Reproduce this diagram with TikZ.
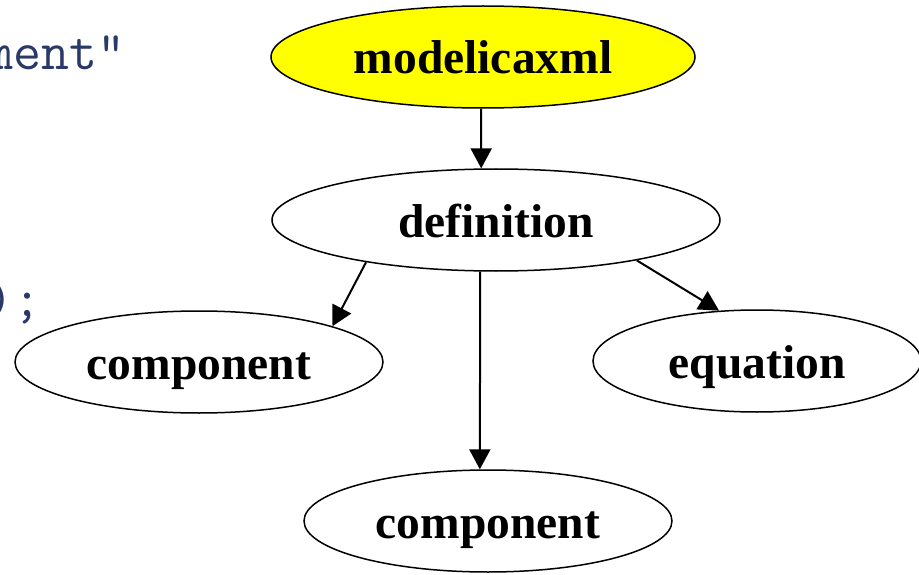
\documentclass[tikz,border=0pt]{standalone}
\usepackage{fontspec}
\setmainfont{Liberation Serif}
\usetikzlibrary{shapes.geometric,arrows.meta}
\definecolor{codeblue}{RGB}{42,58,104}
\definecolor{rootfill}{RGB}{255,255,0}
\tikzset{
  elem/.style={ellipse, draw=black, line width=1.5pt, fill=white, inner sep=0pt,
    minimum height=102pt, text height=34pt, text depth=0pt,
    font=\fontsize{47.5}{57}\selectfont\bfseries},
  link/.style={line width=2pt, -{Triangle[length=20pt,width=21pt]}},
  codeline/.style={anchor=base west, inner sep=0pt, text=codeblue,
    font=\fontsize{54.3}{62}\selectfont\ttfamily}
}
\begin{document}
\begin{tikzpicture}[x=1pt,y=-1pt]
  \useasboundingbox (0,0) rectangle (919,575);
  \clip (0,0) rectangle (919,575);
  \fill[white] (0,0) rectangle (919,575);

  % fragments of source code on the left
  \node[codeline] (code1) at (-14.5,70) {ment"};
  \node[codeline] (code2) at (-14.5,316) {);};

  % element tree
  \node[elem, fill=rootfill, minimum width=424pt] (root) at (483,57) {modelicaxml};
  \node[elem, minimum width=448pt] (def) at (496,220) {definition};
  \node[elem, minimum width=368pt] (compA) at (199,362) {component};
  \node[elem, minimum width=328pt] (eqn) at (757,361) {equation};
  \node[elem, minimum width=368pt] (compB) at (488,521) {component};

  % connectors
  \draw[link] (root.-92) -- (def.106);
  \draw[link] (def.198.6) -- (compA.15);
  \draw[link] (def.-107) -- (compB.99);
  \draw[link] (def.-16.6) -- (eqn.127.4);
\end{tikzpicture}
\end{document}
